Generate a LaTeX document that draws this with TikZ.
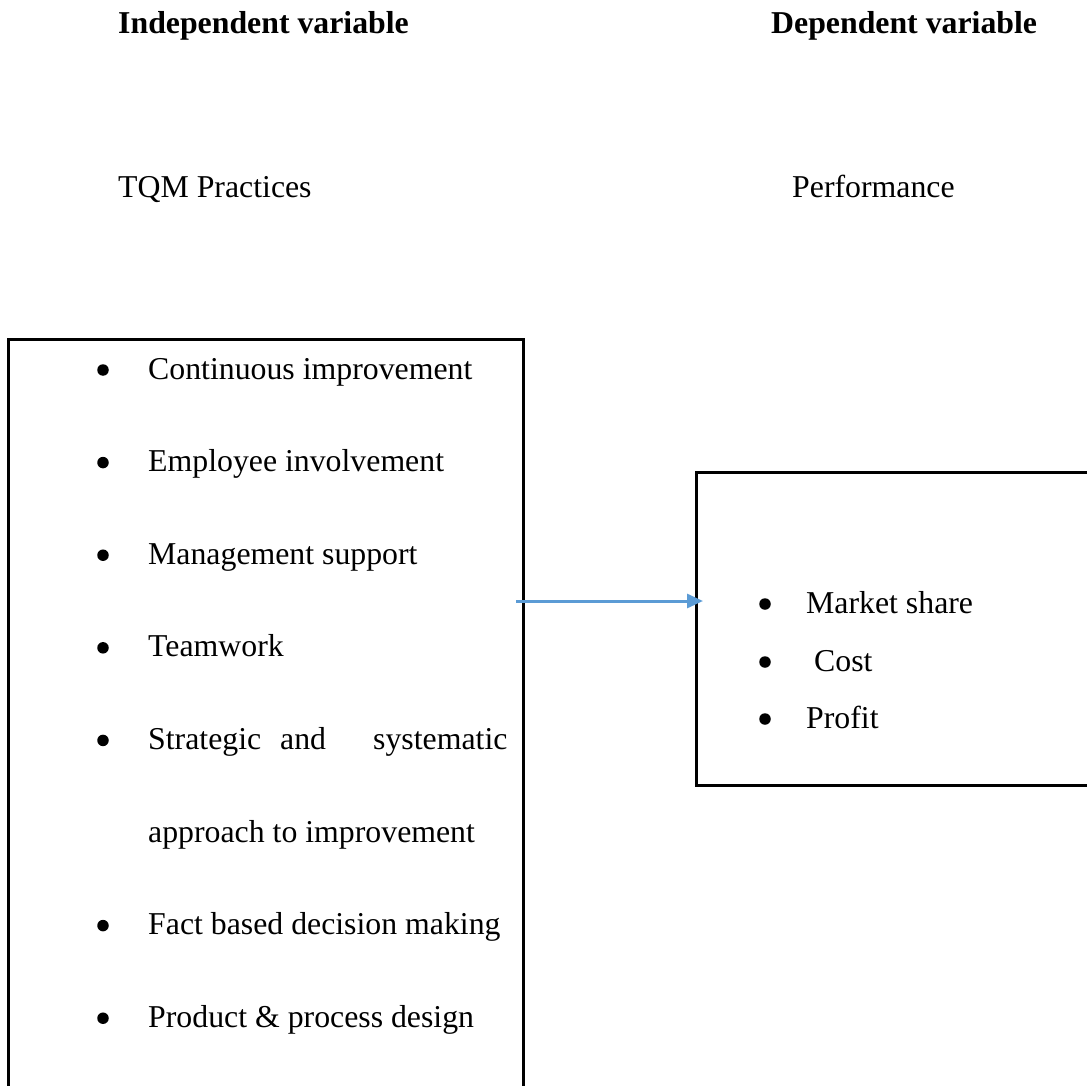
\documentclass[tikz,border=0pt]{standalone}
\usepackage{fontspec}
\setmainfont{Liberation Serif}
\usetikzlibrary{arrows.meta}
\definecolor{arrowblue}{HTML}{5B9BD5}
\tikzset{
  txt/.style={anchor=base west, inner sep=0pt, font=\fontsize{31.8}{38}\selectfont},
  hdr/.style={txt, font=\fontsize{31.8}{38}\selectfont\bfseries},
  frame/.style={draw=black, line width=3pt},
  dot/.style={circle, fill=black, inner sep=0pt, minimum size=11.5pt},
  link/.style={draw=arrowblue, line width=3pt, -{Triangle[length=16pt,width=14pt]}}
}
\begin{document}
\begin{tikzpicture}[x=1pt,y=-1pt]
\useasboundingbox (0,0) rectangle (1087,1086);
\clip (0,0) rectangle (1087,1086);
% headers
\node[hdr] (hdrL) at (118,34) {Independent variable};
\node[hdr] (hdrR) at (771,34) {Dependent variable};
\node[txt] (tqm) at (118,198) {TQM Practices};
\node[txt] (perf) at (792,198) {Performance};
% boxes
\draw[frame] (8,339) rectangle (523,1120);
\draw[frame] (696,472) rectangle (1120,785);
% left list
\node[dot] (b1) at (103,370) {};
\node[txt] (l1) at (148,379) {Continuous improvement};
\node[dot] (b2) at (103,462.6) {};
\node[txt] (l2) at (148,471.6) {Employee involvement};
\node[dot] (b3) at (103,555.2) {};
\node[txt] (l3) at (148,564.2) {Management support};
\node[dot] (b4) at (103,647.8) {};
\node[txt] (l4) at (148,656.8) {Teamwork};
\node[dot] (b5) at (103,740.4) {};
\node[txt] (l5a) at (148,749.4) {Strategic};
\node[txt] (l5b) at (280,749.4) {and};
\node[txt] (l5c) at (373,749.4) {systematic};
\node[txt] (l6) at (148,842) {approach to improvement};
\node[dot] (b7) at (103,925.6) {};
\node[txt] (l7) at (148,934.6) {Fact based decision making};
\node[dot] (b8) at (103,1018.2) {};
\node[txt] (l8) at (148,1027.2) {Product \& process design};
% right list
\node[dot] (r1b) at (765,604) {};
\node[txt] (r1) at (806,613) {Market share};
\node[dot] (r2b) at (765,662) {};
\node[txt] (r2) at (814,671) {Cost};
\node[dot] (r3b) at (765,719) {};
\node[txt] (r3) at (806,728) {Profit};
% connector
\coordinate (aS) at (516,601);
\coordinate (aE) at (703,601);
\draw[link] (aS) -- (aE);
\end{tikzpicture}
\end{document}
